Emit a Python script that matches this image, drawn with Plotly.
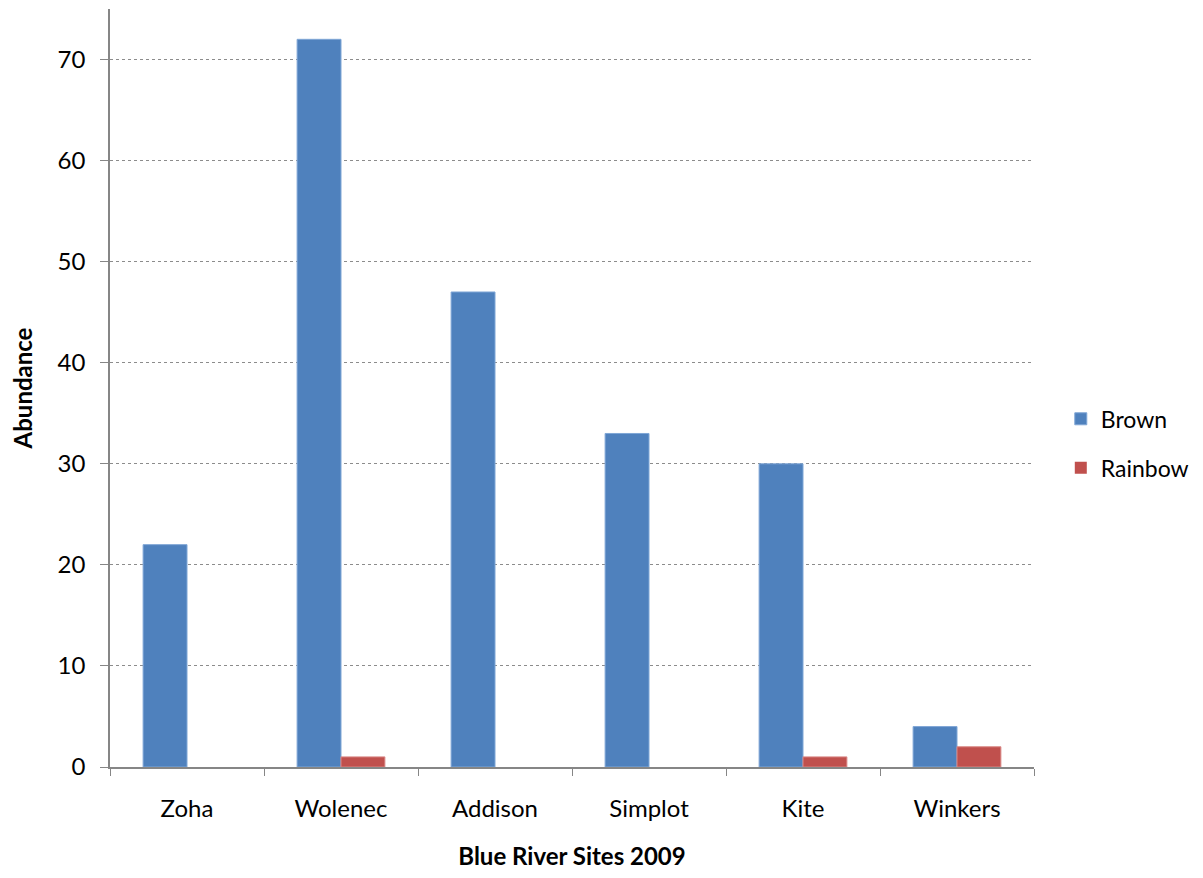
import plotly.graph_objects as go

sites = ["Zoha", "Wolenec", "Addison", "Simplot", "Kite", "Winkers"]
brown = [22, 72, 47, 33, 30, 4]
rainbow = [0, 1, 0, 0, 1, 2]
y_ticks = [0, 10, 20, 30, 40, 50, 60, 70]

FONT = "Lato, 'Open Sans', sans-serif"
AXIS_GREY = "#868686"


def edge_widths(values):
    # no outline on empty bars so they do not show up as a sliver
    return [0 if v == 0 else 1 for v in values]


fig = go.Figure()
fig.add_trace(go.Bar(
    x=sites, y=brown, name="Brown", legendgroup="a",
    marker=dict(color="#4F81BD",
                line=dict(color="#7FA6D6", width=edge_widths(brown))),
))
fig.add_trace(go.Bar(
    x=sites, y=rainbow, name="Rainbow", legendgroup="b",
    marker=dict(color="#C0504D",
                line=dict(color="#D98785", width=edge_widths(rainbow))),
))

fig.update_layout(
    width=1203, height=878,
    margin=dict(l=110, r=169, t=9, b=111, autoexpand=False),
    paper_bgcolor="white", plot_bgcolor="white",
    barmode="group", bargap=0.43, bargroupgap=0,
    font=dict(family=FONT, size=24, color="#000000"),
    legend=dict(
        x=1.029, y=0.427, xanchor="left", yanchor="middle",
        font=dict(size=23), tracegroupgap=16, traceorder="grouped",
        itemwidth=30,
    ),
    showlegend=True,
)

fig.update_xaxes(
    showline=True, linecolor=AXIS_GREY, linewidth=1.5,
    ticks="outside", tickson="boundaries", ticklen=7, tickcolor=AXIS_GREY,
    tickfont=dict(size=24), ticklabelstandoff=19, showgrid=False,
    title=dict(text="<b>Blue River Sites 2009</b>", font=dict(size=24), standoff=28),
)
fig.update_yaxes(
    range=[0, 75], tickvals=y_ticks,
    showline=True, linecolor=AXIS_GREY, linewidth=1.5,
    ticks="outside", ticklen=8, tickcolor=AXIS_GREY,
    tickfont=dict(size=24), ticklabelstandoff=10,
    showgrid=True, gridcolor="#8C8C8C", griddash="dot", gridwidth=1,
    zeroline=False,
    title=dict(text="<b>Abundance</b>", font=dict(size=24), standoff=18),
)

fig.write_html("out.html")
